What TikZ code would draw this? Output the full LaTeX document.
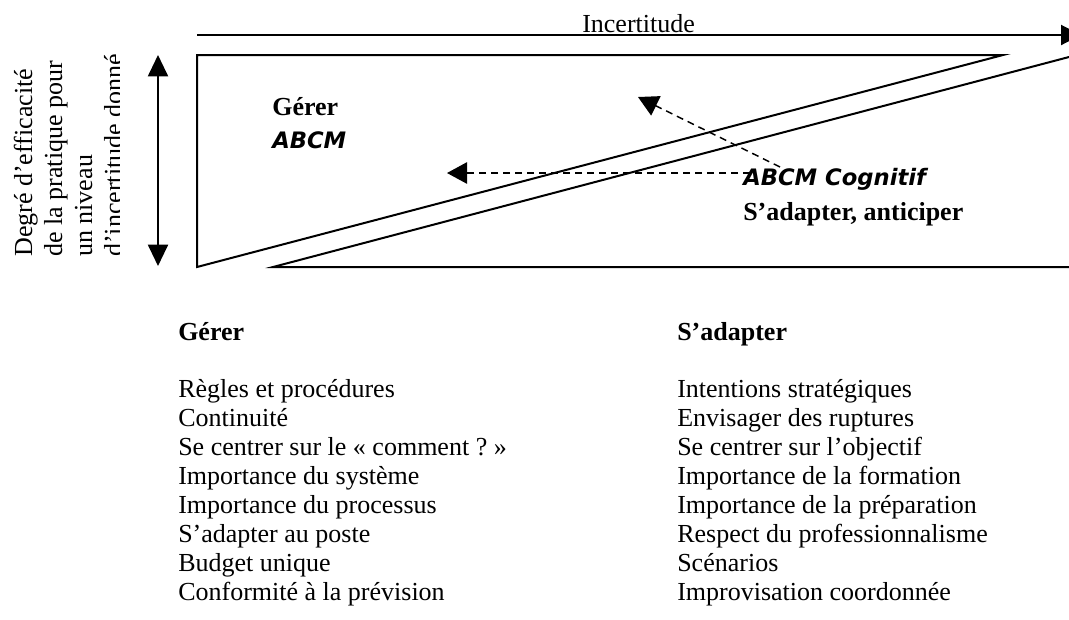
\documentclass[tikz,border=0pt]{standalone}
\usepackage{fontspec}
\setmainfont{Liberation Serif}
\newfontfamily\comicfont{DejaVu Sans}
\usetikzlibrary{arrows.meta}
\tikzset{
  txt/.style={anchor=base west, inner sep=0pt, font=\fontsize{19.5}{21.75}\selectfont},
  btxt/.style={txt, font=\fontsize{19.5}{21.75}\selectfont\bfseries},
  ctxt/.style={anchor=base west, inner sep=0pt, font=\fontsize{17}{20}\selectfont\comicfont\bfseries\itshape},
  rtxt/.style={txt, rotate=90},
  solidline/.style={line width=1.5pt},
  bigtip/.style={-{Triangle[length=16pt,width=15pt]}},
  dashline/.style={line width=1.1pt, dash pattern=on 5.25pt off 3.75pt, -{Triangle[length=15pt,width=16pt]}}
}
\begin{document}
\begin{tikzpicture}[x=0.75pt,y=-0.75pt]
\useasboundingbox (0,0) rectangle (1069,619);
\clip (0,0) rectangle (1069,619);

% uncertainty axis
\coordinate (ia) at (197,35);
\coordinate (ib) at (1081,35);
\draw[solidline, -{Triangle[length=15pt,width=15pt]}] (ia) -- (ib);
\node[txt] (incert) at (582,32) {Incertitude};

% efficiency axis
\coordinate (va) at (158,266);
\coordinate (vb) at (158,55);
\draw[solidline, {Triangle[length=16pt,width=15pt]}-{Triangle[length=16pt,width=15pt]}] (va) -- (vb);

% rotated label
\begin{scope}
\clip (0,43) rectangle (119,270);
\node[rtxt] (r1) at (32,257) {Degré d’efficacité};
\node[rtxt] (r2) at (62,257) {de la pratique pour};
\node[rtxt] (r3) at (92,257) {un niveau};
\node[rtxt] (r4) at (122,257) {d’incertitude donné};
\end{scope}

% upper triangle
\draw[solidline, line join=miter] (1003,55) -- (197,55) -- (197,267) -- cycle;
% lower triangle
\draw[solidline, line join=miter] (1069,57) -- (273,267) -- (1072,267);

% labels in triangles
\node[btxt] (gerer1) at (272,115) {Gérer};
\node[ctxt] (abcm1) at (272,148) {ABCM};
\node[ctxt] (abcm2) at (743,185) {ABCM Cognitif};
\node[btxt] (adapt1) at (743,220) {S’adapter, anticiper};

% dashed arrows
\coordinate (h1) at (750,173);
\coordinate (h2) at (447,173);
\coordinate (d1) at (780,167);
\coordinate (d2) at (638,97);
\draw[dashline] (h1) -- (h2);
\draw[dashline] (d1) -- (d2);

% lists
\node[btxt] (hg) at (178,340) {Gérer};
\node[btxt] (hs) at (677,340) {S’adapter};

\node[txt] (g1) at (178,397) {Règles et procédures};
\node[txt] (g2) at (178,426) {Continuité};
\node[txt] (g3) at (178,455) {Se centrer sur le «~comment~?~»};
\node[txt] (g4) at (178,484) {Importance du système};
\node[txt] (g5) at (178,513) {Importance du processus};
\node[txt] (g6) at (178,542) {S’adapter au poste};
\node[txt] (g7) at (178,571) {Budget unique};
\node[txt] (g8) at (178,600) {Conformité à la prévision};

\node[txt] (s1) at (677,397) {Intentions stratégiques};
\node[txt] (s2) at (677,426) {Envisager des ruptures};
\node[txt] (s3) at (677,455) {Se centrer sur l’objectif};
\node[txt] (s4) at (677,484) {Importance de la formation};
\node[txt] (s5) at (677,513) {Importance de la préparation};
\node[txt] (s6) at (677,542) {Respect du professionnalisme};
\node[txt] (s7) at (677,571) {Scénarios};
\node[txt] (s8) at (677,600) {Improvisation coordonnée};
\end{tikzpicture}
\end{document}
